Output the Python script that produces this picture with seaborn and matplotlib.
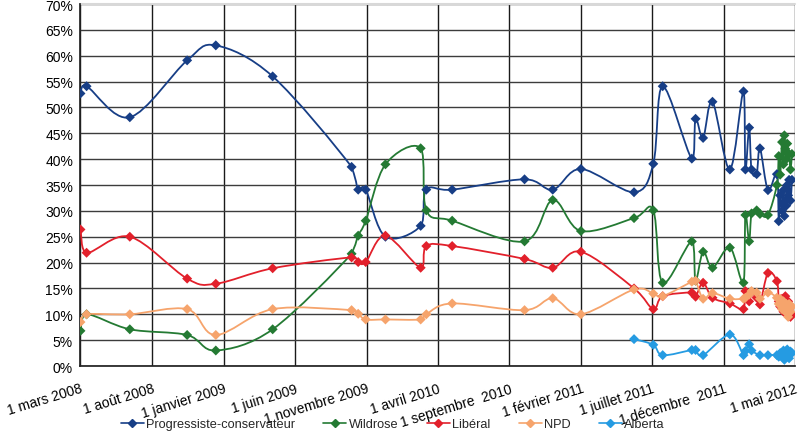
import numpy as np
import pandas as pd
import matplotlib
matplotlib.use("Agg")
import matplotlib.pyplot as plt
import matplotlib.dates as mdates
from matplotlib.path import Path
from matplotlib.patches import PathPatch
from matplotlib.lines import Line2D
import seaborn as sns

# ---------------- data ----------------
dates = [
    "2008-03-02", "2008-03-15", "2008-06-15", "2008-10-15", "2008-12-15",
    "2009-04-15", "2009-09-30", "2009-10-14", "2009-10-30", "2009-12-11",
    "2010-02-24", "2010-03-08", "2010-05-02", "2010-10-03", "2010-12-02",
    "2011-01-31", "2011-05-24", "2011-07-04", "2011-07-24", "2011-09-24",
    "2011-10-02", "2011-10-18", "2011-11-07", "2011-12-14", "2012-01-12",
    "2012-01-16", "2012-01-24", "2012-01-29", "2012-02-09", "2012-02-16",
    "2012-03-04", "2012-03-23", "2012-03-27", "2012-03-30", "2012-04-03",
    "2012-04-06", "2012-04-08", "2012-04-10", "2012-04-12", "2012-04-14",
    "2012-04-16", "2012-04-18", "2012-04-21", "2012-04-24",
]
pc = [52.7, 54.1, 48.1, 59.1, 62.0, 56.0, 38.5, 34.1, 34.1, 25.0,
      27.1, 34.1, 34.1, 36.1, 34.1, 38.1, 33.6, 39.1, 54.1, 40.1,
      47.8, 44.1, 51.1, 38.0, 53.1, 38.0, 46.1, 38.0, 37.1, 42.1,
      34.0, 37.1, 28.0, 33.0, 30.0, 34.0, 29.0, 32.0, 31.0, 35.0,
      33.0, 36.0, 32.0, 36.0]
wildrose = [6.8, 10.0, 7.1, 6.0, 3.0, 7.1, 21.7, 25.2, 28.1, 39.0,
            42.1, 30.1, 28.1, 24.1, 32.1, 26.1, 28.6, 30.1, 16.1, 24.1,
            16.5, 22.1, 19.0, 22.9, 16.1, 29.2, 24.1, 29.5, 30.1, 29.4,
            29.2, 35.0, 40.6, 37.0, 43.3, 39.0, 44.6, 42.0, 40.0, 43.0,
            41.0, 41.0, 38.0, 41.0]
liberal = [26.4, 21.9, 25.0, 16.9, 15.9, 18.9, 21.0, 20.1, 20.1, 25.2,
           19.0, 23.2, 23.2, 20.7, 19.0, 22.1, 15.0, 11.0, 13.5, 14.2,
           13.4, 16.1, 13.2, 12.1, 11.0, 14.5, 12.5, 14.2, 13.2, 11.9,
           18.0, 16.4, 12.5, 11.5, 13.0, 10.5, 12.0, 13.5, 11.0, 10.0,
           12.5, 11.0, 9.5, 10.0]
npd = [8.5, 10.0, 10.0, 11.0, 6.0, 11.0, 10.8, 10.1, 9.0, 9.0,
       9.0, 10.0, 12.1, 10.8, 13.1, 10.0, 14.8, 14.0, 13.5, 16.3,
       16.5, 13.0, 14.1, 13.0, 13.0, 13.2, 13.8, 14.5, 14.2, 13.0,
       14.2, 13.2, 12.0, 13.0, 11.0, 12.5, 11.5, 10.5, 12.0, 11.0,
       9.5, 12.0, 10.5, 11.5]
alberta = [None] * 16 + [
       5.2, 4.1, 2.1, 3.1, 3.1, 2.1, None, 6.1, 2.1, 2.9,
       4.2, 3.0, None, 2.1, 2.1, 2.1, 1.8, 2.5, 2.0, 3.0,
       1.2, 2.8, 2.0, 3.2, 2.5, 1.5, 2.8, 2.5]

series_names = ["Progressiste-conservateur", "Wildrose", "Libéral", "NPD", "Alberta"]
series_values = [pc, wildrose, liberal, npd, alberta]
colors = ["#173E86", "#247A33", "#E2202B", "#F6A46C", "#259BE2"]

tick_dates = ["2008-03-01", "2008-08-01", "2009-01-01", "2009-06-01", "2009-11-01",
              "2010-04-01", "2010-09-01", "2011-02-01", "2011-07-01", "2011-12-01",
              "2012-05-01"]
tick_labels = ["1 mars 2008", "1 août 2008", "1 janvier 2009", "1 juin 2009",
               "1 novembre 2009", "1 avril 2010", "1 septembre  2010",
               "1 février 2011", "1 juillet 2011", "1 décembre  2011", "1 mai 2012"]

# ---------------- figure ----------------
sns.set_theme(style="white")
plt.rcParams["font.family"] = ["Liberation Sans", "DejaVu Sans"]

fig = plt.figure(figsize=(8.0, 4.35), dpi=100)
ax = fig.add_axes([0.1, 0.1563, 0.894, 0.8322])

rows = []
for name, vals in zip(series_names, series_values):
    for d, v in zip(dates, vals):
        if v is not None:
            rows.append({"date": pd.Timestamp(d), "party": name, "value": v})
df = pd.DataFrame(rows)
df["x"] = mdates.date2num(df["date"])


def smooth_path(x, y):
    P = np.column_stack([x, y])
    n = len(P)
    verts = [tuple(P[0])]
    codes = [Path.MOVETO]
    for i in range(n - 1):
        p0 = P[i - 1] if i > 0 else P[i]
        p1 = P[i]
        p2 = P[i + 1]
        p3 = P[i + 2] if i + 2 < n else P[i + 1]
        c1 = p1 + (p2 - p0) / 6.0
        c2 = p2 - (p3 - p1) / 6.0
        c1[0] = min(max(c1[0], p1[0]), p2[0])
        c2[0] = min(max(c2[0], p1[0]), p2[0])
        verts += [tuple(c1), tuple(c2), tuple(p2)]
        codes += [Path.CURVE4] * 3
    return Path(verts, codes)


for name, col in zip(series_names, colors):
    sub = df[df["party"] == name].sort_values("x")
    patch = PathPatch(smooth_path(sub["x"].values, sub["value"].values),
                      facecolor="none", edgecolor=col, lw=1.3, zorder=3)
    ax.add_patch(patch)

sns.scatterplot(data=df, x="x", y="value", hue="party", palette=colors,
                hue_order=series_names, marker="D", s=26, edgecolor="none",
                legend=False, ax=ax, zorder=4)

# axes
tick_nums = mdates.date2num(pd.to_datetime(tick_dates))
ax.set_xlim(tick_nums[0], tick_nums[-1])
ax.set_ylim(0, 70)
ax.set_yticks(np.arange(0, 71, 5))
ax.set_yticklabels([f"{v}%" for v in range(0, 71, 5)], fontsize=10)
ax.set_xticks(tick_nums)
ax.set_xticklabels(tick_labels, fontsize=10, rotation=17, ha="right",
                   va="top", rotation_mode="anchor")
ax.set_xlabel("")
ax.set_ylabel("")
ax.grid(True, axis="y", color="#3c3c3c", lw=1.0, zorder=0)
ax.grid(True, axis="x", color="#1a1a1a", lw=1.0, zorder=0)
for s in ["top", "right"]:
    ax.spines[s].set_visible(False)
ax.spines["left"].set_color("#222222")
ax.spines["bottom"].set_color("#222222")
ax.tick_params(axis="both", which="both", length=3, width=1, color="#222222",
               direction="out", pad=2, labelcolor="black")
ax.tick_params(axis="x", pad=8)
ax.axhline(70, color="#d8d8d8", lw=1.5, zorder=1, clip_on=False)

handles = [Line2D([0], [0], color=c, lw=1.2, marker="D", markersize=4.5)
           for c in colors]
fig.legend(handles, series_names, loc="center", bbox_to_anchor=(0.491, 0.022),
           ncol=5, frameon=False, fontsize=9.2, handlelength=1.8,
           handletextpad=0.2, columnspacing=2.2, borderpad=0.1)

fig.savefig("out.png", dpi=100)
